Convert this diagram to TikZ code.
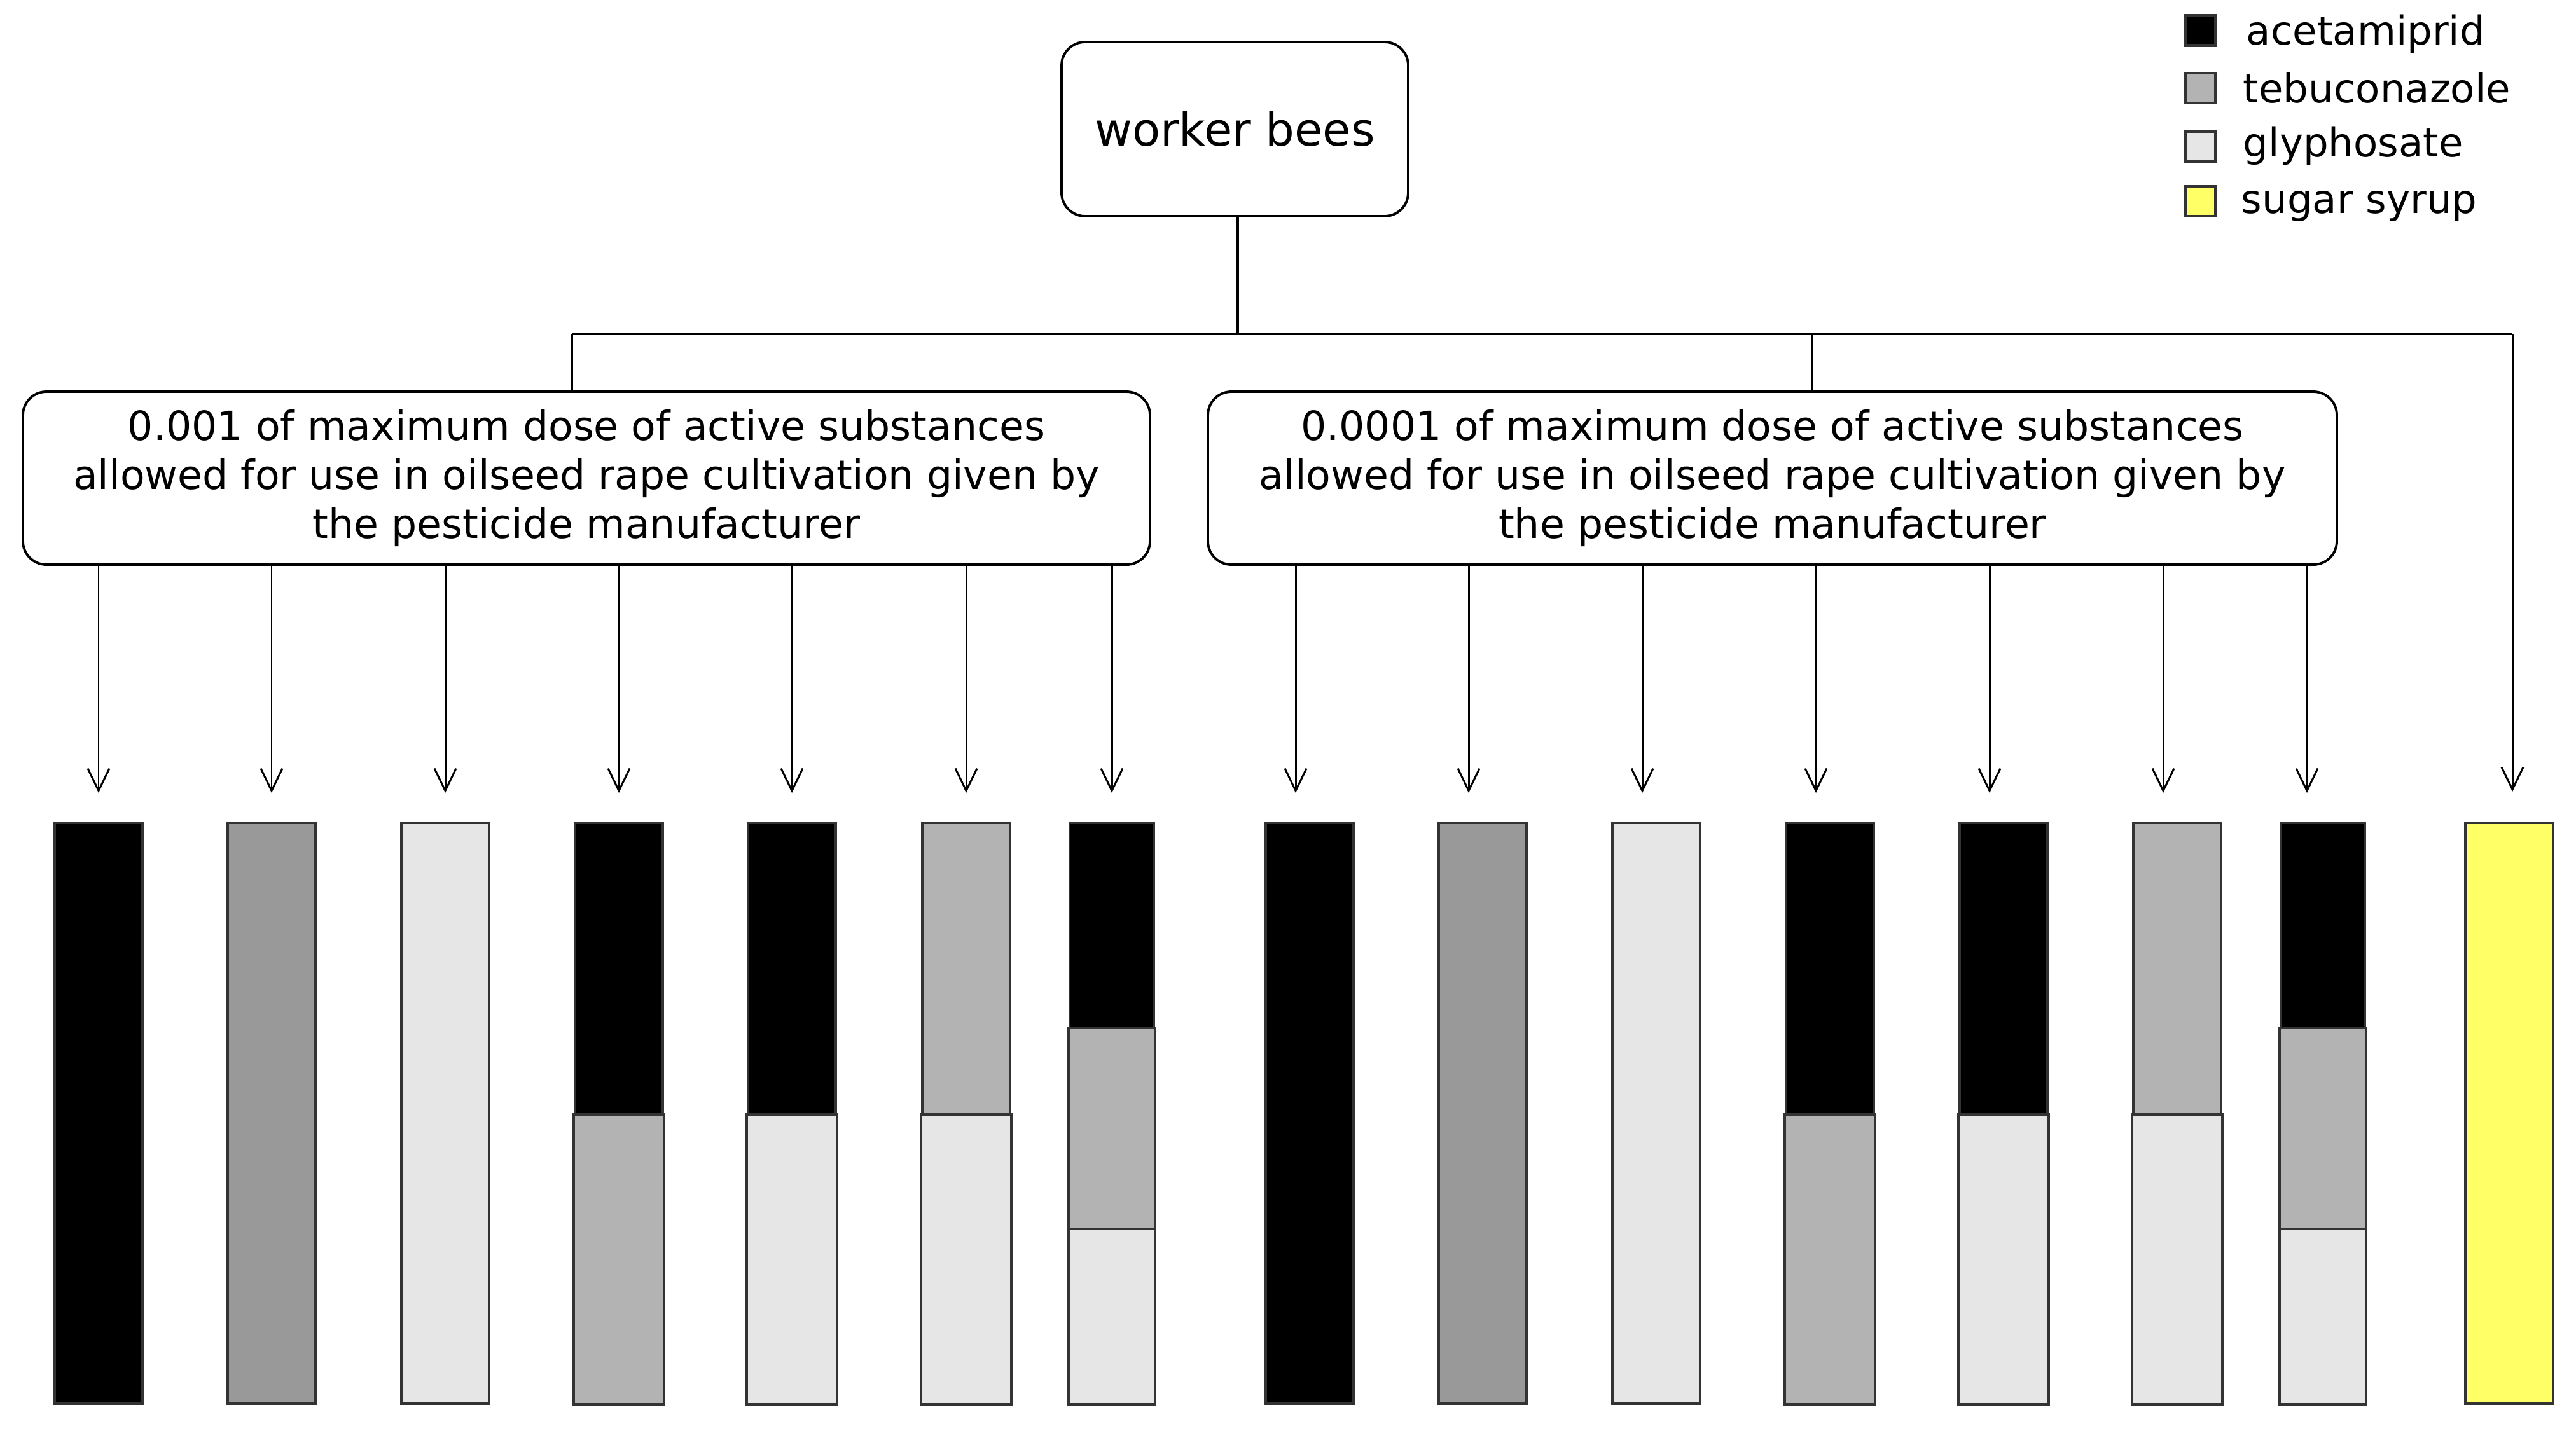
\documentclass[tikz,border=0pt]{standalone}
\usepackage{fontspec}
\setmainfont{DejaVu Sans}
\usepackage{xcolor}
\usetikzlibrary{arrows.meta,positioning}

\definecolor{acet}{HTML}{000000}
\definecolor{tebu}{HTML}{B3B3B3}
\definecolor{tebusingle}{HTML}{999999}
\definecolor{gly}{HTML}{E6E6E6}
\definecolor{syrup}{HTML}{FFFF66}

\begin{document}
\begin{tikzpicture}[
        >={Straight Barb[length=3.5mm,width=3.4mm]},
        line width=1.1pt,
        doseBox/.style={draw, rounded corners=0.37cm, line width=1.1pt, align=center, inner sep=0pt},
        bar/.style={draw=black!80, line width=1.1pt, minimum width=1.38cm, minimum height=9.13cm, inner sep=0pt, anchor=north},
        seg/.style={draw=black!80, line width=1.1pt},
        feed/.style={->, line width=0.85pt, shorten >=4.5mm},
        keySquare/.style={draw=black!80, line width=1.3pt, minimum size=0.47cm, inner sep=0pt},
        keyText/.style={anchor=base west, inner sep=0pt, font=\fontsize{17.8}{21}\selectfont}
    ]

                \useasboundingbox (0,0) rectangle (40.5,-22.48);

                % boxes
                \node[doseBox, minimum width=5.45cm, minimum height=2.74cm, font=\fontsize{20.5}{24}\selectfont] (bees) at (19.415,-2.03) {worker bees};
                \node[doseBox, minimum width=17.72cm, minimum height=2.72cm, font=\fontsize{18}{22}\selectfont] (lbox) at (9.22,-7.52)
                    {0.001 of maximum dose of active substances\\allowed for use in oilseed rape cultivation given by\\the pesticide manufacturer};
                \node[doseBox, minimum width=17.75cm, minimum height=2.72cm, font=\fontsize{18}{22}\selectfont] (rbox) at (27.865,-7.52)
                    {0.0001 of maximum dose of active substances\\allowed for use in oilseed rape cultivation given by\\the pesticide manufacturer};

                \coordinate (stem) at (19.46,-5.25);
                \coordinate (lstub) at (8.99,-5.25);
                \coordinate (rstub) at (28.49,-5.25);
                \coordinate (rend) at (39.50,-5.25);

                \draw (stem |- bees.south) -- (stem);
                \draw (lstub) -- (rend);
                \draw (lstub) -- (lstub |- lbox.north);
                \draw (rstub) -- (rstub |- rbox.north);

                % bars
                \node[bar, fill=acet] (b1) at (1.55,-12.92) {};
                \node[bar, fill=tebusingle] (b2) at (4.27,-12.92) {};
                \node[bar, fill=gly] (b3) at (7.00,-12.92) {};
                \node[bar, fill=acet] (b4) at (9.73,-12.92) {};
                \node[bar, fill=acet] (b5) at (12.45,-12.92) {};
                \node[bar, fill=tebu] (b6) at (15.19,-12.92) {};
                \node[bar, fill=acet, minimum width=1.33cm] (b7) at (17.48,-12.92) {};
                \node[bar, fill=acet] (b8) at (20.59,-12.92) {};
                \node[bar, fill=tebusingle] (b9) at (23.31,-12.92) {};
                \node[bar, fill=gly] (b10) at (26.04,-12.92) {};
                \node[bar, fill=acet] (b11) at (28.77,-12.92) {};
                \node[bar, fill=acet] (b12) at (31.50,-12.92) {};
                \node[bar, fill=tebu] (b13) at (34.23,-12.92) {};
                \node[bar, fill=acet, minimum width=1.33cm] (b14) at (36.52,-12.92) {};
                \node[bar, fill=syrup] (b15) at (39.45,-12.92) {};

                \draw[seg, fill=tebu] ([yshift=4.56cm]b4.south west) rectangle (b4.south east);
                \draw[seg, fill=gly] ([yshift=4.56cm]b5.south west) rectangle (b5.south east);
                \draw[seg, fill=gly] ([yshift=4.56cm]b6.south west) rectangle (b6.south east);
                \draw[seg, fill=tebu] ([yshift=5.92cm]b7.south west) rectangle (b7.south east);
                \draw[seg, fill=gly] ([yshift=2.76cm]b7.south west) rectangle (b7.south east);
                \draw[seg, fill=tebu] ([yshift=4.56cm]b11.south west) rectangle (b11.south east);
                \draw[seg, fill=gly] ([yshift=4.56cm]b12.south west) rectangle (b12.south east);
                \draw[seg, fill=gly] ([yshift=4.56cm]b13.south west) rectangle (b13.south east);
                \draw[seg, fill=tebu] ([yshift=5.92cm]b14.south west) rectangle (b14.south east);
                \draw[seg, fill=gly] ([yshift=2.76cm]b14.south west) rectangle (b14.south east);

                % arrows
                \draw[feed] (lbox.south -| b1.north) -- (b1.north);
                \draw[feed] (lbox.south -| b2.north) -- (b2.north);
                \draw[feed] (lbox.south -| b3.north) -- (b3.north);
                \draw[feed] (lbox.south -| b4.north) -- (b4.north);
                \draw[feed] (lbox.south -| b5.north) -- (b5.north);
                \draw[feed] (lbox.south -| b6.north) -- (b6.north);
                \draw[feed] (lbox.south -| b7.north) -- (b7.north);

                \coordinate (t8) at ([xshift=-2.2mm]b8.north);
                \coordinate (t9) at ([xshift=-2.2mm]b9.north);
                \coordinate (t10) at ([xshift=-2.2mm]b10.north);
                \coordinate (t11) at ([xshift=-2.2mm]b11.north);
                \coordinate (t12) at ([xshift=-2.2mm]b12.north);
                \coordinate (t13) at ([xshift=-2.2mm]b13.north);
                \coordinate (t14) at ([xshift=-2.5mm]b14.north);
                \draw[feed] (rbox.south -| t8) -- (t8);
                \draw[feed] (rbox.south -| t9) -- (t9);
                \draw[feed] (rbox.south -| t10) -- (t10);
                \draw[feed] (rbox.south -| t11) -- (t11);
                \draw[feed] (rbox.south -| t12) -- (t12);
                \draw[feed] (rbox.south -| t13) -- (t13);
                \draw[feed] (rbox.south -| t14) -- (t14);
                \draw[feed, shorten >=4.7mm] (rend) -- (rend |- b15.north);

                % legend
                \node[keySquare, fill=acet] (kAcet) at (34.595,-0.48) {};
                \node[keySquare, fill=tebu] (kTebu) at (34.595,-1.385) {};
                \node[keySquare, fill=gly] (kGly) at (34.595,-2.305) {};
                \node[keySquare, fill=syrup] (kSyrup) at (34.595,-3.165) {};
                \node[keyText] (tAcet) at (35.30,-0.70) {acetamiprid};
                \node[keyText] (tTebu) at (35.25,-1.61) {tebuconazole};
                \node[keyText] (tGly) at (35.25,-2.46) {glyphosate};
                \node[keyText] (tSyrup) at (35.22,-3.35) {sugar syrup};
            \end{tikzpicture}
\end{document}
